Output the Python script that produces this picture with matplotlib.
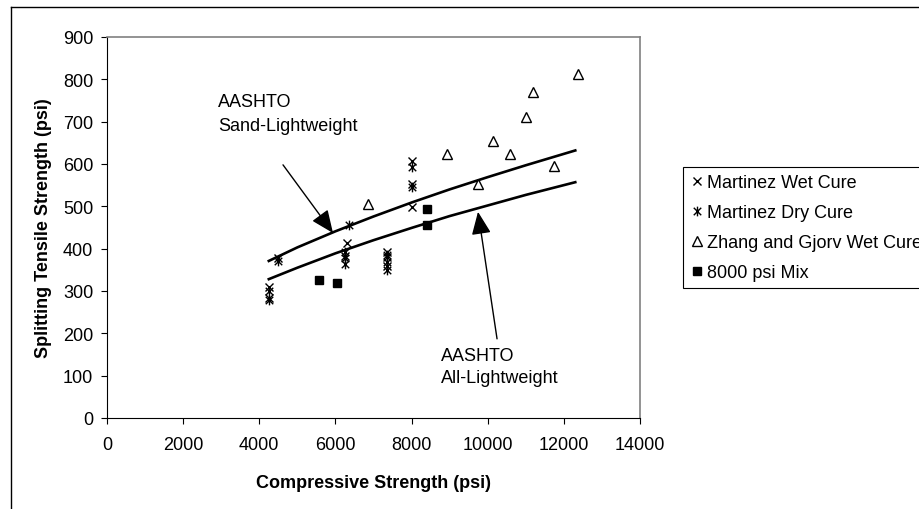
#!/usr/bin/env python3
# -*- coding: utf-8 -*-

import matplotlib
matplotlib.use("Agg")
import matplotlib.pyplot as plt
from matplotlib.path import Path
from matplotlib.lines import Line2D

plt.rcParams["font.family"] = ["Liberation Sans", "DejaVu Sans"]
plt.rcParams["font.size"] = 13

# --- data (psi) ---
wet_x = [4250, 4250, 4500, 6300, 6250, 7350, 7350, 7350, 8000, 8000, 8000]
wet_y = [310, 283, 378, 413, 382, 393, 380, 358, 608, 553, 498]

dry_x = [4250, 4250, 4500, 6350, 6250, 6250, 6250, 7350, 7350, 7350, 8000, 8000]
dry_y = [300, 278, 372, 455, 392, 378, 364, 385, 368, 350, 594, 545]

zhang_x = [6860, 8940, 9750, 10130, 10590, 11000, 11190, 11750, 12360]
zhang_y = [506, 624, 553, 655, 624, 710, 769, 596, 813]

mix_x = [5570, 6050, 8400, 8400]
mix_y = [327, 320, 494, 456]

# AASHTO curves
curve_x = [4250, 5000, 6000, 7000, 8000, 9000, 10000, 11000, 12300]
sand_y = [371, 403, 441, 476, 509, 540, 569, 597, 632]
allw_y = [328, 355, 389, 420, 449, 477, 502, 527, 557]

legend_labels = ["Martinez Wet Cure", "Martinez Dry Cure",
                 "Zhang and Gjorv Wet Cure", "8000 psi Mix"]

# excel style asterisk: an X with a vertical bar
star = Path([(-1, -1), (1, 1), (-1, 1), (1, -1), (0, -1.3), (0, 1.3)],
            [Path.MOVETO, Path.LINETO, Path.MOVETO, Path.LINETO,
             Path.MOVETO, Path.LINETO])

fig = plt.figure(figsize=(9.2, 5.1), dpi=100)
ax = fig.add_axes([107/920, 1-419/510, 533/920, 381/510])

ax.plot(curve_x, sand_y, color="black", lw=1.9)
ax.plot(curve_x, allw_y, color="black", lw=1.9)

ax.plot(wet_x, wet_y, ls="none", marker="x", ms=6, mew=1, color="black",
        label=legend_labels[0])
ax.plot(dry_x, dry_y, ls="none", marker=star, ms=7, mew=1, color="black",
        mfc="none", label=legend_labels[1])
ax.plot(zhang_x, zhang_y, ls="none", marker="^", ms=7, mew=1, mec="black",
        mfc="white", label=legend_labels[2])
ax.plot(mix_x, mix_y, ls="none", marker="s", ms=5.5, color="black",
        label=legend_labels[3])

ax.set_xlim(0, 14000)
ax.set_ylim(0, 900)
ax.set_xticks(range(0, 14001, 2000))
ax.set_yticks(range(0, 901, 100))
ax.tick_params(direction="out", length=4, width=0.8)
ax.tick_params(axis="y", pad=6)
ax.tick_params(axis="x", pad=9)

for s in ("top", "right"):
    ax.spines[s].set_color("#808080")
    ax.spines[s].set_linewidth(1.2)
for s in ("left", "bottom"):
    ax.spines[s].set_color("black")
    ax.spines[s].set_linewidth(0.8)

ax.set_xlabel("Compressive Strength (psi)", fontweight="bold", va="center")
ax.xaxis.set_label_coords(0.5, -(484-419)/381)
ax.set_ylabel("Splitting Tensile Strength (psi)", fontweight="bold", va="center")
ax.yaxis.set_label_coords(-(107-44)/533, 0.5)

# annotations
arw = dict(arrowstyle="-|>,head_length=0.7,head_width=0.3", color="black",
           lw=1, mutation_scale=20, shrinkA=0, shrinkB=0)
ax.annotate("", xy=(5936, 437), xytext=(4623, 598), arrowprops=arw)
ax.text(2916, 748, "AASHTO", va="center", ha="left")
ax.text(2916, 690, "Sand-Lightweight", va="center", ha="left")

ax.annotate("", xy=(9745, 487), xytext=(10245, 187), arrowprops=arw)
ax.text(8773, 148, "AASHTO", va="center", ha="left")
ax.text(8773, 96, "All-Lightweight", va="center", ha="left")

leg = ax.legend(loc="upper left", bbox_to_anchor=(683/920, 1-168/510),
                bbox_transform=fig.transFigure, borderaxespad=0,
                frameon=True, fancybox=False, edgecolor="black",
                framealpha=1, borderpad=0.4, labelspacing=0.72,
                handlelength=0.8, handletextpad=0.15, fontsize=13)
leg.get_frame().set_linewidth(0.8)

# outer chart border (left and top visible)
fig.add_artist(Line2D([11/920, 11/920], [0, 1-8/510], color="black", lw=1,
                      transform=fig.transFigure))
fig.add_artist(Line2D([11/920, 1], [1-8/510, 1-8/510], color="black", lw=1,
                      transform=fig.transFigure))

fig.savefig("out.png", dpi=100)
